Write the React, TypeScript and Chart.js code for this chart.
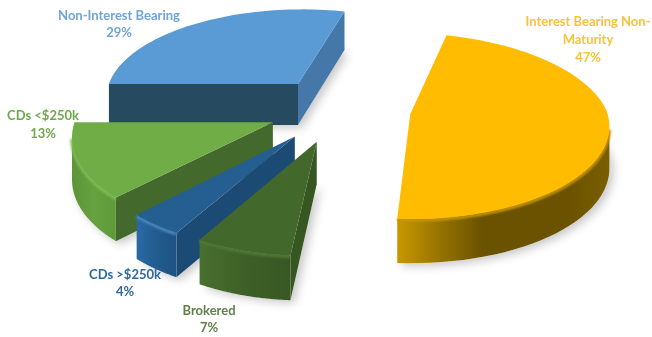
import React, { useEffect, useRef } from "react";
import { Chart, registerables } from "chart.js";

Chart.register(...registerables);

// Deposit mix, in clockwise order from the left-hand edge of the first slice.
const categories = ["Non-Interest Bearing", "Interest Bearing Non-Maturity", "Brokered", "CDs >$250k", "CDs <$250k"];
const shares = [29, 47, 7, 4, 13];
const labelLines = [
  ["Non-Interest Bearing", "29%"],
  ["Interest Bearing Non-", "Maturity", "47%"],
  ["Brokered", "7%"],
  ["CDs >$250k", "4%"],
  ["CDs <$250k", "13%"],
];

const topColors = ["#5B9BD5", "#FFBC00", "#43682B", "#255E91", "#70AD47"];
const rimColors = ["#5B9BD5", "#C49400", "#4E7834", "#4A86BE", "#7EBB52"];
const startWallColors = ["#264A60", "#8A6A00", "#375722", "#1B4A75", "#44692D"];
const endWallColors = ["#4578A8", "#8A6A00", "#33511F", "#1B4A75", "#44692D"];
const outerWallStops = [
  ["#264A60", "#264A60"],
  ["#C89800", "#967300", "#6B5200", "#6B5200", "#6B5200", "#7A5E00"],
  ["#48702E", "#3E6027", "#385823"],
  ["#2A6AA4", "#225B8E", "#1D5282"],
  ["#5C9438", "#66A23F", "#5F9A3A"],
];
const labelColors = ["#6FA5D8", "#F8C23A", "#5E8148", "#2F689C", "#6FA84A"];

// Where each label block is centred, and its first baseline.
const labelAnchors = [
  { x: 119, y: 20, gap: 17 },
  { x: 588, y: 26, gap: 18 },
  { x: 209, y: 315, gap: 17 },
  { x: 125, y: 279, gap: 17 },
  { x: 43, y: 120, gap: 18 },
];

// Ground plane to screen: pie centre, vertical squash, perspective, extrusion.
const CENTER_X = 340;
const CENTER_Y = 109;
const SQUASH = 0.46;
const PERSPECTIVE = -0.00065;
const NEAR_SKEW = 0.04;
const NEAR_LEFT_TAPER = 0.00023;
const PLANE_RADIUS = 196;
const DEPTH = 41.5;
const DEPTH_SLOPE = 0.0003;
const ARC_STEPS = 60;

type Pt = { x: number; y: number; v: number };

const project = (u: number, v: number): Pt => {
  const w = 1 + PERSPECTIVE * v;
  const near = Math.max(v, 0);
  return {
    x: CENTER_X + (u - NEAR_SKEW * near) / w + NEAR_LEFT_TAPER * Math.max(-u, 0) * near,
    y: CENTER_Y + (SQUASH * v) / w,
    v,
  };
};
const lower = (p: Pt): Pt => ({ x: p.x, y: p.y + DEPTH * (1 + DEPTH_SLOPE * p.v), v: p.v });

const tracePolygon = (ctx: CanvasRenderingContext2D, pts: Pt[]) => {
  ctx.beginPath();
  pts.forEach((p, i) => (i ? ctx.lineTo(p.x, p.y) : ctx.moveTo(p.x, p.y)));
  ctx.closePath();
};

const solidPiePlugin = {
  id: "solidPie",
  beforeDatasetDraw(chart: any) {
    const ctx: CanvasRenderingContext2D = chart.ctx;
    const arcs = chart.getDatasetMeta(0).data;

    const slices = arcs.map((arc: any, index: number) => {
      const { startAngle, endAngle } = arc.getProps(["startAngle", "endAngle"], true);
      const offset = arc.options.offset;
      const mid = (startAngle + endAngle) / 2;
      const ou = Math.cos(mid) * offset;
      const ov = Math.sin(mid) * offset;
      const rim: Pt[] = [];
      for (let i = 0; i <= ARC_STEPS; i++) {
        const a = startAngle + ((endAngle - startAngle) * i) / ARC_STEPS;
        rim.push(project(ou + PLANE_RADIUS * Math.cos(a), ov + PLANE_RADIUS * Math.sin(a)));
      }
      return { index, apex: project(ou, ov), rim, order: ov };
    });
    slices.sort((a: any, b: any) => a.order - b.order);

    // Soft ground shadow under everything.
    ctx.save();
    ctx.shadowColor = "rgba(0,0,0,0.22)";
    ctx.shadowBlur = 10;
    ctx.shadowOffsetX = 4;
    ctx.shadowOffsetY = 3;
    ctx.fillStyle = "#ffffff";
    slices.forEach((s: any) => {
      const outline = [s.apex, ...s.rim];
      tracePolygon(ctx, [...outline.map(lower)]);
      ctx.fill();
    });
    ctx.restore();

    slices.forEach((s: any) => {
      const { index, apex, rim } = s;
      const first = rim[0];
      const last = rim[rim.length - 1];

      // A wall shows only where the outline runs right to left on screen.
      if (first.x < apex.x) {
        tracePolygon(ctx, [apex, first, lower(first), lower(apex)]);
        ctx.fillStyle = startWallColors[index];
        ctx.fill();
      }
      if (apex.x < last.x) {
        tracePolygon(ctx, [last, apex, lower(apex), lower(last)]);
        ctx.fillStyle = endWallColors[index];
        ctx.fill();
      }

      const visible = rim.filter((p: Pt, i: number) => {
        const prev = rim[i - 1];
        const next = rim[i + 1];
        return (next && next.x < p.x) || (prev && p.x < prev.x);
      });
      if (visible.length > 1) {
        const xs = visible.map((p: Pt) => p.x);
        const grad = ctx.createLinearGradient(Math.min(...xs), 0, Math.max(...xs), 0);
        const stops = outerWallStops[index];
        stops.forEach((c, i) => grad.addColorStop(i / (stops.length - 1), c));
        tracePolygon(ctx, [...visible, ...visible.map(lower).reverse()]);
        ctx.fillStyle = grad;
        ctx.fill();

        // Rounded lip where the outer wall meets the top face.
        ctx.save();
        ctx.filter = "blur(1px)";
        ctx.beginPath();
        visible.forEach((p: Pt, i: number) => (i ? ctx.lineTo(p.x, p.y + 1) : ctx.moveTo(p.x, p.y + 1)));
        ctx.strokeStyle = rimColors[index];
        ctx.lineWidth = 3.5;
        ctx.stroke();
        ctx.restore();
      }

      tracePolygon(ctx, [apex, ...rim]);
      ctx.fillStyle = topColors[index];
      ctx.fill();
    });

    return false;
  },
  afterDraw(chart: any) {
    const ctx: CanvasRenderingContext2D = chart.ctx;
    ctx.save();
    ctx.font = 'bold 13px Lato, "Open Sans", sans-serif';
    ctx.textAlign = "center";
    ctx.textBaseline = "alphabetic";
    labelLines.forEach((lines, i) => {
      const anchor = labelAnchors[i];
      ctx.fillStyle = labelColors[i];
      lines.forEach((line, j) => ctx.fillText(line, anchor.x, anchor.y + j * anchor.gap));
    });
    ctx.restore();
  },
};

export default function App() {
  const ref = useRef<HTMLCanvasElement>(null);

  useEffect(() => {
    if (!ref.current) return;
    const chart = new Chart(ref.current, {
      type: "pie",
      data: {
        labels: categories,
        datasets: [
          {
            data: shares,
            backgroundColor: topColors,
            borderWidth: 0,
            offset: 71,
            hoverOffset: 0,
          },
        ],
      },
      options: {
        responsive: false,
        animation: false,
        rotation: 270,
        events: [],
        plugins: { legend: { display: false }, tooltip: { enabled: false } },
      },
      plugins: [solidPiePlugin],
    } as any);
    return () => chart.destroy();
  }, []);

  return (
    <div style={{ position: "absolute", left: 0, top: 0, width: 652, height: 337, background: "#fff" }}>
      <canvas ref={ref} width={652} height={337} style={{ display: "block" }} />
    </div>
  );
}
